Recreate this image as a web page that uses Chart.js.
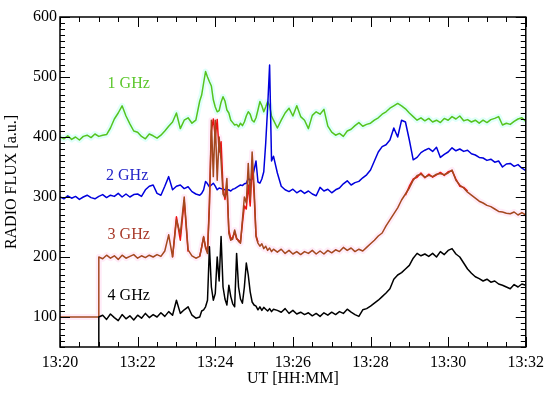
<!DOCTYPE html>
<html>
<head>
<meta charset="utf-8">
<script src="https://cdn.jsdelivr.net/npm/chart.js@4.4.1/dist/chart.umd.min.js"></script>
<style>
  html, body { margin: 0; padding: 0; background: #fff; }
  #wrap { width: 550px; height: 395px; }
</style>
</head>
<body>
<div id="wrap"><canvas id="radioChart" width="550" height="395"></canvas></div>
<script>
// time in minutes after 13:00 (21.0 twice for the step at switch-on)
const times = [
  20.0,20.1,20.2,20.3,20.4,20.5,20.6,20.7,20.8,20.9,
  21.0,21.0,
  21.1,21.2,21.3,21.4,21.5,21.6,21.7,21.8,21.9,22.0,22.1,22.2,22.3,22.4,22.5,22.6,22.7,22.8,22.9,23.0,23.1,23.2,23.3,23.4,23.5,23.6,
  23.65,23.7,23.75,23.8,23.85,23.9,23.95,24.0,24.05,24.1,24.15,24.2,24.25,24.3,24.35,24.4,24.45,24.5,
  24.55,24.6,24.65,24.7,24.75,24.8,24.85,24.9,24.95,25.0,25.05,25.1,25.15,25.2,25.25,25.3,25.35,25.4,25.45,25.5,
  25.6,25.7,25.8,25.9,26.0,26.1,26.2,26.3,26.4,26.5,26.6,26.7,26.8,26.9,27.0,27.1,27.2,27.3,27.4,27.5,
  27.6,27.7,27.8,27.9,28.0,28.1,28.2,28.3,28.4,28.5,28.6,28.7,28.8,28.9,29.0,29.1,29.2,29.3,29.4,29.5,
  29.6,29.7,29.8,29.9,30.0,30.1,30.2,30.3,30.4,30.5,30.6,30.7,30.8,30.9,31.0,31.1,31.2,31.3,31.4,31.5,
  31.6,31.7,31.8,31.9,32.0
];

const flux1GHz = [
  400,397,402,396,400,395,401,403,399,405,
  401,401,
  403,404,415,430,440,452,435,422,410,408,401,397,405,402,398,403,410,418,425,440,414,428,432,423,428,460,
  470,490,509,500,492,485,462,450,442,444,458,467,460,445,440,428,424,420,
  421,417,423,419,425,435,442,438,428,425,432,445,459,452,442,450,459,452,435,428,
  415,428,440,448,435,452,434,428,414,436,442,438,446,418,408,403,406,401,410,413,
  419,424,418,421,423,428,432,438,442,448,452,456,452,447,440,434,428,432,427,431,
  425,428,424,431,428,434,430,435,427,429,425,428,423,428,424,429,431,434,420,423,
  421,426,430,432,426
];

const flux2GHz = [
  300,297,302,298,301,296,300,303,299,297,
  301,301,
  304,299,303,301,306,300,305,300,304,305,301,312,318,320,306,303,318,334,312,318,320,314,317,309,305,303,
  306,312,326,322,317,320,323,318,312,315,314,313,312,311,312,310,313,314,
  316,318,320,319,322,323,331,328,330,345,360,325,323,330,342,390,450,520,360,368,
  340,318,312,309,313,307,311,306,310,305,302,316,310,313,307,312,315,322,327,320,
  324,326,332,337,345,360,375,384,387,395,415,400,428,425,395,362,366,374,378,381,
  376,383,366,371,375,382,377,380,376,378,372,370,366,365,361,363,358,360,350,355,
  356,351,354,348,344
];

const flux3GHz = [
  100,100,100,100,100,100,100,100,100,100,
  100,200,
  197,203,198,202,196,203,198,201,204,198,202,199,203,200,204,201,210,237,200,262,238,300,212,202,198,201,
  217,234,215,206,284,428,334,428,328,400,360,305,300,331,239,228,230,245,
  232,226,223,262,300,290,356,295,375,317,234,223,218,222,214,218,211,215,209,213,
  208,213,206,211,205,209,204,209,206,211,205,210,205,211,207,212,209,216,211,215,
  209,213,210,216,222,228,235,240,252,262,272,282,295,305,315,328,336,338,333,336,
  334,338,339,337,340,345,328,320,315,308,303,298,293,290,286,284,280,276,275,273,
  272,275,270,274,270
];

// second 3 GHz trace (red), only where it separates from the brown one
const flux3GHzB = [
  null,null,null,null,null,null,null,null,null,null,
  null,null,
  null,null,null,null,null,null,null,null,null,null,null,null,null,null,null,null,null,null,200,267,228,294,209,null,null,201,
  216,233,217,209,292,410,430,400,429,375,392,315,296,318,245,230,233,242,
  230,228,225,256,285,280,320,285,355,305,236,225,null,null,null,null,null,null,null,null,
  null,null,null,null,null,null,null,null,null,null,null,null,null,null,null,null,null,null,null,null,
  null,null,null,null,null,null,null,null,null,null,null,null,null,303,318,330,333,340,332,338,
  333,337,341,336,342,344,330,318,316,310,null,null,null,null,null,null,null,null,null,null,
  null,null,null,null,null
];

const flux4GHz = [
  null,null,null,null,null,null,null,null,null,null,
  50,100,
  103,96,105,99,94,104,97,102,95,103,98,106,99,104,100,107,101,109,103,128,106,112,117,103,98,100,
  110,112,117,128,217,150,128,139,200,160,234,150,130,120,153,134,122,117,
  206,150,130,123,150,190,170,142,125,120,118,112,117,111,116,113,110,114,109,113,
  111,108,114,106,111,105,108,104,107,102,106,101,107,103,108,104,109,106,113,108,
  104,101,112,114,118,123,128,134,140,147,163,170,174,180,186,198,206,202,205,201,
  206,200,209,204,211,214,205,200,190,180,173,167,164,160,163,158,160,155,153,150,
  147,154,150,155,153
];

// axis ticks
const xTicks = [20, 22, 24, 26, 28, 30, 32];
const yTicks = [100, 200, 300, 400, 500, 600];

// series names, written inside the plot
const labelNames = ['1 GHz', '2 GHz', '3 GHz', '4 GHz'];
const labelTimes = [21.77, 21.73, 21.77, 21.77];
const labelFlux = [488, 335, 237, 136];
const labelColors = ['#5cc72c', '#2323c8', '#a83a2a', '#000000'];

[flux1GHz, flux2GHz, flux3GHz, flux3GHzB, flux4GHz].forEach((arr, i) => {
  if (arr.length !== times.length) console.error('length mismatch', i, arr.length, times.length);
});

function pts(vals) {
  return times.map((t, i) => ({ x: t, y: vals[i] }));
}

function line(vals, color, width) {
  return {
    data: pts(vals),
    borderColor: color,
    borderWidth: width,
    pointRadius: 0,
    tension: 0,
    spanGaps: false,
    borderJoinStyle: 'round'
  };
}

// inside tick marks on all four sides + frame
const frameTicks = {
  id: 'frameTicks',
  afterDatasetsDraw(chart) {
    const { ctx, chartArea: a, scales: { x, y } } = chart;
    ctx.save();
    ctx.strokeStyle = '#000';
    ctx.lineWidth = 1;
    ctx.beginPath();
    for (let t = 20; t <= 32.001; t += 0.5) {
      const px = Math.round(x.getPixelForValue(t)) + 0.5;
      const len = xTicks.includes(Math.round(t * 10) / 10) ? 10 : 5;
      ctx.moveTo(px, a.bottom); ctx.lineTo(px, a.bottom - len);
      ctx.moveTo(px, a.top); ctx.lineTo(px, a.top + len);
    }
    for (let v = 50; v <= 600; v += 10) {
      const py = Math.round(y.getPixelForValue(v)) + 0.5;
      const len = v % 100 === 0 ? 10 : 5;
      ctx.moveTo(a.left, py); ctx.lineTo(a.left + len, py);
      ctx.moveTo(a.right, py); ctx.lineTo(a.right - len, py);
    }
    ctx.stroke();
    ctx.lineWidth = 1.5;
    ctx.strokeRect(a.left, a.top, a.right - a.left, a.bottom - a.top);

    // series labels
    ctx.font = '16px "Liberation Serif", serif';
    ctx.textAlign = 'center';
    ctx.textBaseline = 'middle';
    labelNames.forEach((name, i) => {
      ctx.fillStyle = labelColors[i];
      ctx.fillText(name, x.getPixelForValue(labelTimes[i]), y.getPixelForValue(labelFlux[i]));
    });
    ctx.restore();
  }
};

Chart.defaults.font.family = '"Liberation Serif", serif';
Chart.defaults.font.size = 16;
Chart.defaults.color = '#000';

new Chart(document.getElementById('radioChart'), {
  type: 'line',
  data: {
    datasets: [
      line(flux4GHz, '#000000', 1.5),
      line(flux3GHz, '#a4481e', 1.5),
      line(flux3GHzB, '#ee1111', 1.5),
      line(flux2GHz, '#0000dd', 1.5),
      line(flux1GHz, '#55c41e', 1.5),
      line(flux3GHz, 'rgba(255,185,230,0.28)', 6),
      line(flux1GHz, 'rgba(160,255,240,0.32)', 6)
    ]
  },
  options: {
    responsive: false,
    animation: false,
    events: [],
    layout: { padding: { left: 0, right: 22, top: 17, bottom: 0 } },
    plugins: { legend: { display: false }, tooltip: { enabled: false } },
    scales: {
      x: {
        type: 'linear',
        min: 20,
        max: 32,
        afterBuildTicks: s => { s.ticks = xTicks.map(v => ({ value: v })); },
        afterFit: s => { s.height = 48; },
        ticks: {
          padding: 6,
          maxRotation: 0,
          autoSkip: false,
          callback: v => '13:' + String(v).padStart(2, '0')
        },
        grid: { display: false, drawTicks: false },
        border: { display: false },
        title: { display: true, text: 'UT [HH:MM]', padding: { top: 0, bottom: 7 } }
      },
      y: {
        min: 50,
        max: 600,
        afterBuildTicks: s => { s.ticks = yTicks.map(v => ({ value: v })); },
        afterFit: s => { s.width = 60; },
        ticks: { padding: 3 },
        grid: { display: false, drawTicks: false },
        border: { display: false },
        title: { display: true, text: 'RADIO FLUX [a.u.]', padding: { top: 2, bottom: 0 } }
      }
    }
  },
  plugins: [frameTicks]
});
</script>
</body>
</html>
